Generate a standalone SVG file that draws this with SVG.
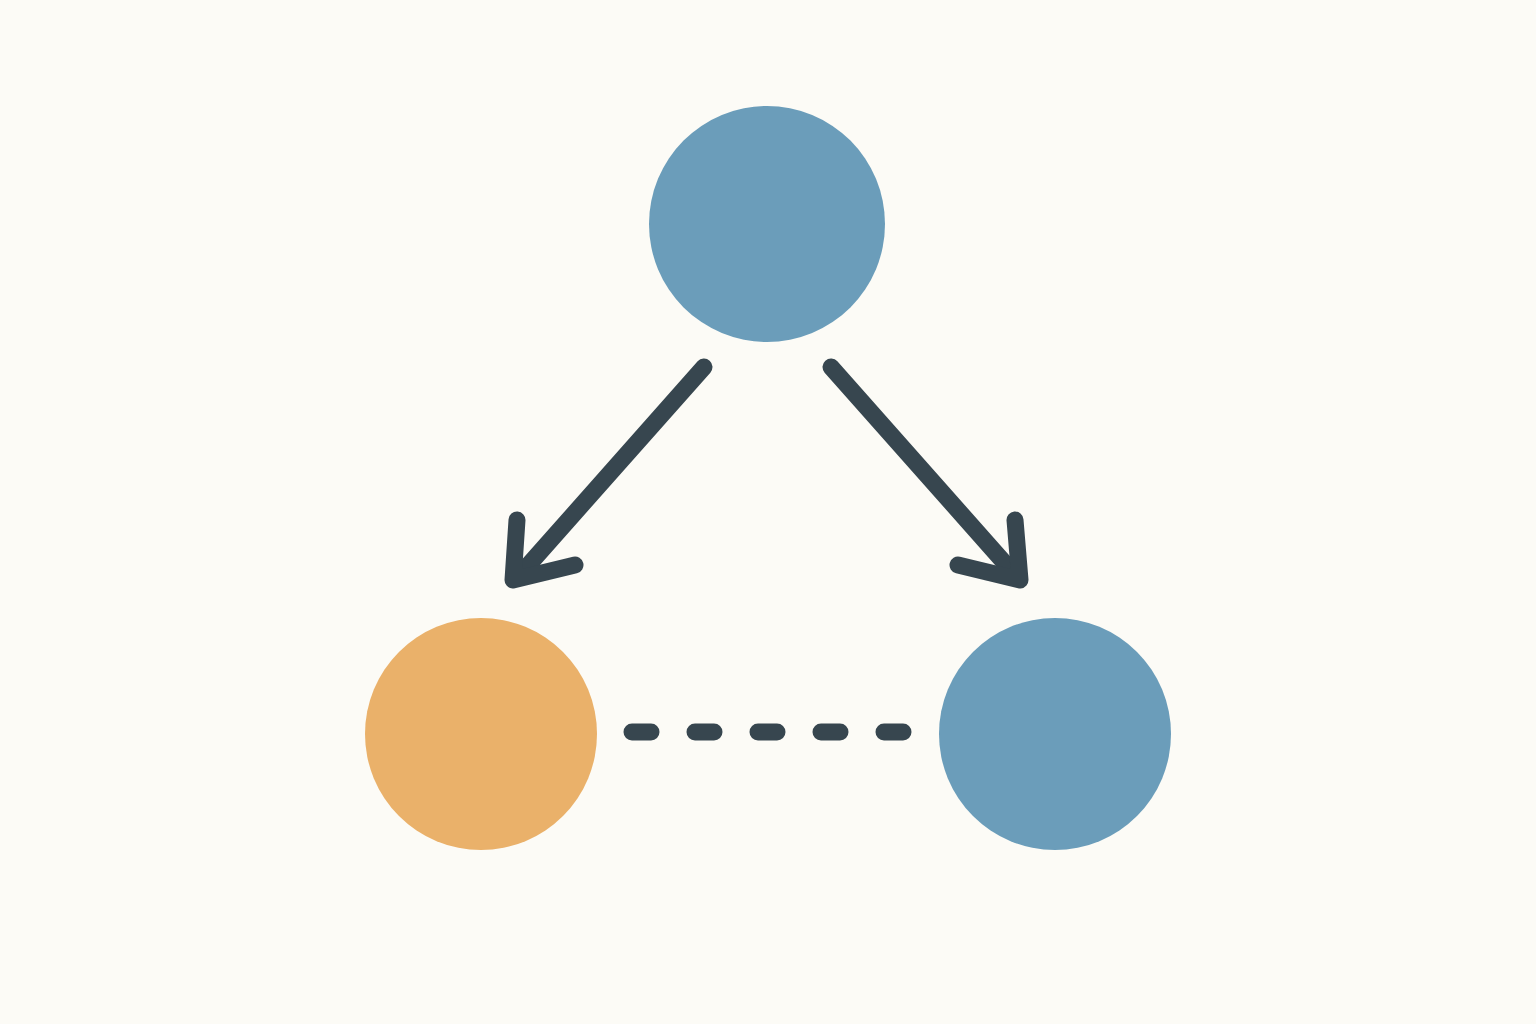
<svg xmlns="http://www.w3.org/2000/svg" width="1536" height="1024" viewBox="0 0 1536 1024">
  <style>
    .blue { fill: #6B9DBA; }
    .orange { fill: #EAB16A; }
    .edge { fill: none; stroke: #37464F; stroke-width: 17; stroke-linecap: round; stroke-linejoin: round; }
    .dash { fill: none; stroke: #37464F; stroke-width: 17; stroke-linecap: round; stroke-dasharray: 19 44; }
  </style>
  <rect width="1536" height="1024" fill="#FCFBF6"/>
  <g id="node-top"><circle class="blue" cx="767" cy="224" r="118"/></g>
  <g id="node-left"><circle class="orange" cx="481" cy="734" r="116"/></g>
  <g id="node-right"><circle class="blue" cx="1055" cy="734" r="116"/></g>
  <g id="connectors">
    <path class="edge" d="M704 367 L517 578"/>
    <path class="edge" d="M517 520 L513 580 L575 565"/>
    <path class="edge" d="M831 367 L1018 578"/>
    <path class="edge" d="M1015 520 L1020 580 L958 565"/>
    <path class="dash" d="M632 732 L904 732"/>
  </g>
</svg>
